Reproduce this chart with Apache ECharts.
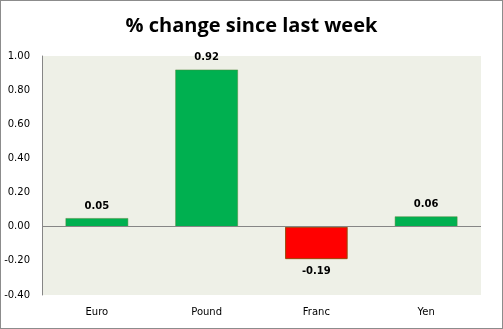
<!DOCTYPE html>
<html>
<head>
<meta charset="utf-8">
<script src="https://cdn.jsdelivr.net/npm/echarts@6/dist/echarts.min.js"></script>
<style>
  html, body { margin: 0; padding: 0; background: #fff; }
  #chart { position: absolute; left: 0; top: 0; width: 501px; height: 327px; border: 1px solid #8c8c8c; }
</style>
</head>
<body>
<div id="chart"></div>
<script>
const categories = ['Euro', 'Pound', 'Franc', 'Yen'];
const changes = [0.05, 0.92, -0.19, 0.06];
const yTicks = { min: -0.4, max: 1.0, step: 0.2 };

const chart = echarts.init(document.getElementById('chart'), null, { renderer: 'canvas' });

const barData = changes.map(v => ({
  value: v,
  itemStyle: v >= 0
    ? { color: '#00b050', borderColor: '#4f8a3a', borderWidth: 0.5 }
    : { color: '#ff0000', borderColor: '#984807', borderWidth: 1 },
  label: { position: v >= 0 ? 'top' : 'bottom' }
}));

chart.setOption({
  animation: false,
  title: {
    text: '% change since last week',
    left: 'center',
    top: 10,
    textStyle: { fontFamily: 'Open Sans', fontWeight: 'bold', fontSize: 20, color: '#000' }
  },
  grid: {
    left: 41, right: 21, top: 55, bottom: 33,
    show: true, backgroundColor: '#eef0e7', borderWidth: 0
  },
  xAxis: {
    type: 'category',
    data: categories,
    axisLine: { show: false, onZero: false },
    axisTick: { show: false },
    axisLabel: { fontFamily: 'DejaVu Sans', fontSize: 10, color: '#000', margin: 12 }
  },
  yAxis: {
    type: 'value',
    min: yTicks.min, max: yTicks.max, interval: yTicks.step,
    axisLine: { show: true, lineStyle: { color: '#868686', width: 1 } },
    axisTick: { show: false },
    splitLine: { show: false },
    axisLabel: {
      fontFamily: 'DejaVu Sans', fontSize: 10, color: '#000', margin: 12,
      formatter: v => v.toFixed(2)
    }
  },
  series: [{
    type: 'bar',
    data: barData,
    barWidth: '57%',
    label: {
      show: true,
      fontFamily: 'DejaVu Sans', fontWeight: 'bold', fontSize: 10, color: '#000',
      distance: 7,
      formatter: p => p.value.toFixed(2)
    },
    markLine: {
      silent: true,
      symbol: 'none',
      label: { show: false },
      lineStyle: { color: '#868686', type: 'solid', width: 1 },
      data: [{ yAxis: 0 }]
    }
  }]
});
</script>
</body>
</html>
